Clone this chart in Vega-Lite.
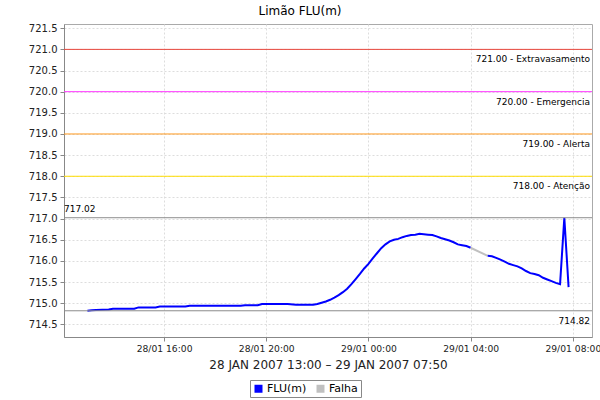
{
  "$schema": "https://vega.github.io/schema/vega-lite/v6.json",
  "width": 528,
  "height": 313,
  "autosize": "none",
  "padding": {"left": 64, "top": 24, "right": 8, "bottom": 63},
  "background": "white",
  "title": {"text": "Limão FLU(m)", "fontSize": 12, "fontWeight": "normal", "font": "DejaVu Sans", "color": "#000000", "offset": 5, "dx": -28},
  "config": {
    "font": "DejaVu Sans",
    "view": {"stroke": "#aaaaaa", "strokeWidth": 1},
    "axis": {
      "labelFont": "DejaVu Sans", "labelFontSize": 10, "labelColor": "#222222",
      "domainColor": "#888888", "tickColor": "#888888", "tickSize": 4,
      "gridColor": "#dddddd", "gridDash": [2, 2], "gridWidth": 1,
      "titleFont": "DejaVu Sans", "titleFontWeight": "normal", "titleColor": "#222222",
      "labelOverlap": false
    },
    "axisX": {"labelExpr": "utcFormat(datum.value, '%d/%m %H:%M')", "labelPadding": 3, "labelFontSize": 9.2},
    "axisY": {"labelExpr": "format(datum.value, '.1f')", "labelPadding": 3}
  },
  "datasets": {
    "nivel": [
      {"t": "2007-01-28T13:00:00Z", "v": 714.82, "serie": "FLU(m)", "trecho": "A"},
      {"t": "2007-01-28T13:10:00Z", "v": 714.83, "serie": "FLU(m)", "trecho": "A"},
      {"t": "2007-01-28T13:20:00Z", "v": 714.84, "serie": "FLU(m)", "trecho": "A"},
      {"t": "2007-01-28T13:50:00Z", "v": 714.85, "serie": "FLU(m)", "trecho": "A"},
      {"t": "2007-01-28T14:00:00Z", "v": 714.87, "serie": "FLU(m)", "trecho": "A"},
      {"t": "2007-01-28T14:50:00Z", "v": 714.87, "serie": "FLU(m)", "trecho": "A"},
      {"t": "2007-01-28T15:00:00Z", "v": 714.90, "serie": "FLU(m)", "trecho": "A"},
      {"t": "2007-01-28T15:40:00Z", "v": 714.90, "serie": "FLU(m)", "trecho": "A"},
      {"t": "2007-01-28T15:50:00Z", "v": 714.92, "serie": "FLU(m)", "trecho": "A"},
      {"t": "2007-01-28T16:50:00Z", "v": 714.92, "serie": "FLU(m)", "trecho": "A"},
      {"t": "2007-01-28T17:00:00Z", "v": 714.94, "serie": "FLU(m)", "trecho": "A"},
      {"t": "2007-01-28T19:00:00Z", "v": 714.94, "serie": "FLU(m)", "trecho": "A"},
      {"t": "2007-01-28T19:10:00Z", "v": 714.95, "serie": "FLU(m)", "trecho": "A"},
      {"t": "2007-01-28T19:40:00Z", "v": 714.95, "serie": "FLU(m)", "trecho": "A"},
      {"t": "2007-01-28T19:50:00Z", "v": 714.98, "serie": "FLU(m)", "trecho": "A"},
      {"t": "2007-01-28T20:50:00Z", "v": 714.98, "serie": "FLU(m)", "trecho": "A"},
      {"t": "2007-01-28T21:10:00Z", "v": 714.96, "serie": "FLU(m)", "trecho": "A"},
      {"t": "2007-01-28T21:50:00Z", "v": 714.96, "serie": "FLU(m)", "trecho": "A"},
      {"t": "2007-01-28T22:00:00Z", "v": 714.98, "serie": "FLU(m)", "trecho": "A"},
      {"t": "2007-01-28T22:10:00Z", "v": 715.01, "serie": "FLU(m)", "trecho": "A"},
      {"t": "2007-01-28T22:20:00Z", "v": 715.04, "serie": "FLU(m)", "trecho": "A"},
      {"t": "2007-01-28T22:30:00Z", "v": 715.08, "serie": "FLU(m)", "trecho": "A"},
      {"t": "2007-01-28T22:40:00Z", "v": 715.13, "serie": "FLU(m)", "trecho": "A"},
      {"t": "2007-01-28T22:50:00Z", "v": 715.19, "serie": "FLU(m)", "trecho": "A"},
      {"t": "2007-01-28T23:00:00Z", "v": 715.26, "serie": "FLU(m)", "trecho": "A"},
      {"t": "2007-01-28T23:10:00Z", "v": 715.34, "serie": "FLU(m)", "trecho": "A"},
      {"t": "2007-01-28T23:20:00Z", "v": 715.45, "serie": "FLU(m)", "trecho": "A"},
      {"t": "2007-01-28T23:30:00Z", "v": 715.57, "serie": "FLU(m)", "trecho": "A"},
      {"t": "2007-01-28T23:40:00Z", "v": 715.69, "serie": "FLU(m)", "trecho": "A"},
      {"t": "2007-01-28T23:50:00Z", "v": 715.82, "serie": "FLU(m)", "trecho": "A"},
      {"t": "2007-01-29T00:00:00Z", "v": 715.93, "serie": "FLU(m)", "trecho": "A"},
      {"t": "2007-01-29T00:10:00Z", "v": 716.06, "serie": "FLU(m)", "trecho": "A"},
      {"t": "2007-01-29T00:20:00Z", "v": 716.18, "serie": "FLU(m)", "trecho": "A"},
      {"t": "2007-01-29T00:30:00Z", "v": 716.30, "serie": "FLU(m)", "trecho": "A"},
      {"t": "2007-01-29T00:40:00Z", "v": 716.39, "serie": "FLU(m)", "trecho": "A"},
      {"t": "2007-01-29T00:50:00Z", "v": 716.46, "serie": "FLU(m)", "trecho": "A"},
      {"t": "2007-01-29T01:00:00Z", "v": 716.50, "serie": "FLU(m)", "trecho": "A"},
      {"t": "2007-01-29T01:10:00Z", "v": 716.52, "serie": "FLU(m)", "trecho": "A"},
      {"t": "2007-01-29T01:20:00Z", "v": 716.56, "serie": "FLU(m)", "trecho": "A"},
      {"t": "2007-01-29T01:30:00Z", "v": 716.59, "serie": "FLU(m)", "trecho": "A"},
      {"t": "2007-01-29T01:40:00Z", "v": 716.61, "serie": "FLU(m)", "trecho": "A"},
      {"t": "2007-01-29T01:50:00Z", "v": 716.62, "serie": "FLU(m)", "trecho": "A"},
      {"t": "2007-01-29T02:00:00Z", "v": 716.64, "serie": "FLU(m)", "trecho": "A"},
      {"t": "2007-01-29T02:10:00Z", "v": 716.63, "serie": "FLU(m)", "trecho": "A"},
      {"t": "2007-01-29T02:20:00Z", "v": 716.62, "serie": "FLU(m)", "trecho": "A"},
      {"t": "2007-01-29T02:30:00Z", "v": 716.61, "serie": "FLU(m)", "trecho": "A"},
      {"t": "2007-01-29T02:40:00Z", "v": 716.58, "serie": "FLU(m)", "trecho": "A"},
      {"t": "2007-01-29T02:50:00Z", "v": 716.54, "serie": "FLU(m)", "trecho": "A"},
      {"t": "2007-01-29T03:00:00Z", "v": 716.51, "serie": "FLU(m)", "trecho": "A"},
      {"t": "2007-01-29T03:10:00Z", "v": 716.48, "serie": "FLU(m)", "trecho": "A"},
      {"t": "2007-01-29T03:20:00Z", "v": 716.44, "serie": "FLU(m)", "trecho": "A"},
      {"t": "2007-01-29T03:30:00Z", "v": 716.39, "serie": "FLU(m)", "trecho": "A"},
      {"t": "2007-01-29T03:40:00Z", "v": 716.37, "serie": "FLU(m)", "trecho": "A"},
      {"t": "2007-01-29T03:50:00Z", "v": 716.35, "serie": "FLU(m)", "trecho": "A"},
      {"t": "2007-01-29T04:00:00Z", "v": 716.31, "serie": "FLU(m)", "trecho": "A"},
      {"t": "2007-01-29T04:00:00Z", "v": 716.31, "serie": "Falha", "trecho": "F"},
      {"t": "2007-01-29T04:40:00Z", "v": 716.12, "serie": "Falha", "trecho": "F"},
      {"t": "2007-01-29T04:40:00Z", "v": 716.12, "serie": "FLU(m)", "trecho": "B"},
      {"t": "2007-01-29T04:50:00Z", "v": 716.11, "serie": "FLU(m)", "trecho": "B"},
      {"t": "2007-01-29T05:00:00Z", "v": 716.07, "serie": "FLU(m)", "trecho": "B"},
      {"t": "2007-01-29T05:10:00Z", "v": 716.03, "serie": "FLU(m)", "trecho": "B"},
      {"t": "2007-01-29T05:20:00Z", "v": 715.98, "serie": "FLU(m)", "trecho": "B"},
      {"t": "2007-01-29T05:30:00Z", "v": 715.93, "serie": "FLU(m)", "trecho": "B"},
      {"t": "2007-01-29T05:40:00Z", "v": 715.90, "serie": "FLU(m)", "trecho": "B"},
      {"t": "2007-01-29T05:50:00Z", "v": 715.87, "serie": "FLU(m)", "trecho": "B"},
      {"t": "2007-01-29T06:00:00Z", "v": 715.82, "serie": "FLU(m)", "trecho": "B"},
      {"t": "2007-01-29T06:10:00Z", "v": 715.76, "serie": "FLU(m)", "trecho": "B"},
      {"t": "2007-01-29T06:20:00Z", "v": 715.71, "serie": "FLU(m)", "trecho": "B"},
      {"t": "2007-01-29T06:30:00Z", "v": 715.69, "serie": "FLU(m)", "trecho": "B"},
      {"t": "2007-01-29T06:40:00Z", "v": 715.66, "serie": "FLU(m)", "trecho": "B"},
      {"t": "2007-01-29T06:50:00Z", "v": 715.60, "serie": "FLU(m)", "trecho": "B"},
      {"t": "2007-01-29T07:00:00Z", "v": 715.56, "serie": "FLU(m)", "trecho": "B"},
      {"t": "2007-01-29T07:10:00Z", "v": 715.52, "serie": "FLU(m)", "trecho": "B"},
      {"t": "2007-01-29T07:20:00Z", "v": 715.48, "serie": "FLU(m)", "trecho": "B"},
      {"t": "2007-01-29T07:30:00Z", "v": 715.45, "serie": "FLU(m)", "trecho": "B"},
      {"t": "2007-01-29T07:40:00Z", "v": 717.02, "serie": "FLU(m)", "trecho": "B"},
      {"t": "2007-01-29T07:50:00Z", "v": 715.38, "serie": "FLU(m)", "trecho": "B"}
    ],
    "cotas": [
      {"nome": "Extravasamento", "v": 721.0, "rotulo": "721.00 - Extravasamento", "lado": "dir"},
      {"nome": "Emergencia", "v": 720.0, "rotulo": "720.00 - Emergencia", "lado": "dir"},
      {"nome": "Alerta", "v": 719.0, "rotulo": "719.00 - Alerta", "lado": "dir"},
      {"nome": "Atenção", "v": 718.0, "rotulo": "718.00 - Atenção", "lado": "dir"},
      {"nome": "max", "v": 717.02, "rotulo": "717.02", "lado": "esq"},
      {"nome": "min", "v": 714.82, "rotulo": "714.82", "lado": "dir"}
    ]
  },
  "encoding": {
    "y": {
      "field": "v", "type": "quantitative",
      "scale": {"domain": [714.2, 721.6], "nice": false, "zero": false},
      "axis": {"title": null, "labelOverlap": false, "tickCount": 15, "values": [714.5, 715, 715.5, 716, 716.5, 717, 717.5, 718, 718.5, 719, 719.5, 720, 720.5, 721, 721.5]}
    }
  },
  "layer": [
    {
      "data": {"name": "nivel"},
      "mark": {"type": "line", "strokeWidth": 2},
      "encoding": {
        "x": {
          "field": "t", "type": "temporal",
          "scale": {"type": "utc", "domain": [{"year": 2007, "month": 1, "date": 28, "hours": 12, "minutes": 5, "utc": true}, {"year": 2007, "month": 1, "date": 29, "hours": 8, "minutes": 45, "utc": true}], "nice": false},
          "axis": {
            "title": "28 JAN 2007 13:00 – 29 JAN 2007 07:50",
            "titleFontSize": 12, "titlePadding": 6,
            "values": [
              {"year": 2007, "month": 1, "date": 28, "hours": 16, "utc": true},
              {"year": 2007, "month": 1, "date": 28, "hours": 20, "utc": true},
              {"year": 2007, "month": 1, "date": 29, "hours": 0, "utc": true},
              {"year": 2007, "month": 1, "date": 29, "hours": 4, "utc": true},
              {"year": 2007, "month": 1, "date": 29, "hours": 8, "utc": true}
            ]
          }
        },
        "color": {
          "field": "serie", "type": "nominal",
          "scale": {"domain": ["FLU(m)", "Falha"], "range": ["#0000ff", "#c0c0c0"]},
          "legend": {
            "title": null, "orient": "none", "legendX": 186, "legendY": 356, "direction": "horizontal",
            "symbolType": "square", "symbolSize": 64, "labelFontSize": 11, "labelFont": "DejaVu Sans", "labelColor": "#000000",
            "strokeColor": "#888888", "padding": 3, "columnPadding": 8, "labelOffset": 3,
            "encode": {"symbols": {"update": {"fill": {"scale": "color", "field": "value"}, "fillOpacity": {"value": 1}, "strokeWidth": {"value": 0}}}}
          }
        },
        "detail": {"field": "trecho"}
      }
    },
    {
      "data": {"name": "cotas"},
      "transform": [{"filter": "datum.nome === 'Extravasamento'"}],
      "mark": {"type": "rule", "color": "#e8463c", "strokeWidth": 1}
    },
    {
      "data": {"name": "cotas"},
      "transform": [{"filter": "datum.nome === 'Emergencia'"}],
      "mark": {"type": "rule", "color": "#ff33ff", "strokeWidth": 1}
    },
    {
      "data": {"name": "cotas"},
      "transform": [{"filter": "datum.nome === 'Alerta'"}],
      "mark": {"type": "rule", "color": "#ff9a1f", "strokeWidth": 1}
    },
    {
      "data": {"name": "cotas"},
      "transform": [{"filter": "datum.nome === 'Atenção'"}],
      "mark": {"type": "rule", "color": "#ffdd00", "strokeWidth": 1}
    },
    {
      "data": {"name": "cotas"},
      "transform": [{"filter": "datum.nome === 'max' || datum.nome === 'min'"}],
      "mark": {"type": "rule", "color": "#8c8c8c", "strokeWidth": 1}
    },
    {
      "data": {"name": "cotas"},
      "transform": [{"filter": "datum.lado === 'dir'"}],
      "mark": {"type": "text", "align": "right", "baseline": "middle", "dx": -2, "dy": 10, "fontSize": 9, "font": "DejaVu Sans", "color": "#000000"},
      "encoding": {
        "x": {"datum": {"year": 2007, "month": 1, "date": 29, "hours": 8, "minutes": 45, "utc": true}, "type": "temporal", "title": null},
        "text": {"field": "rotulo"}
      }
    },
    {
      "data": {"name": "cotas"},
      "transform": [{"filter": "datum.lado === 'esq'"}],
      "mark": {"type": "text", "align": "left", "baseline": "middle", "dx": 0, "dy": -9, "fontSize": 9, "font": "DejaVu Sans", "color": "#000000"},
      "encoding": {
        "x": {"datum": {"year": 2007, "month": 1, "date": 28, "hours": 12, "minutes": 5, "utc": true}, "type": "temporal", "title": null},
        "text": {"field": "rotulo"}
      }
    }
  ]
}
